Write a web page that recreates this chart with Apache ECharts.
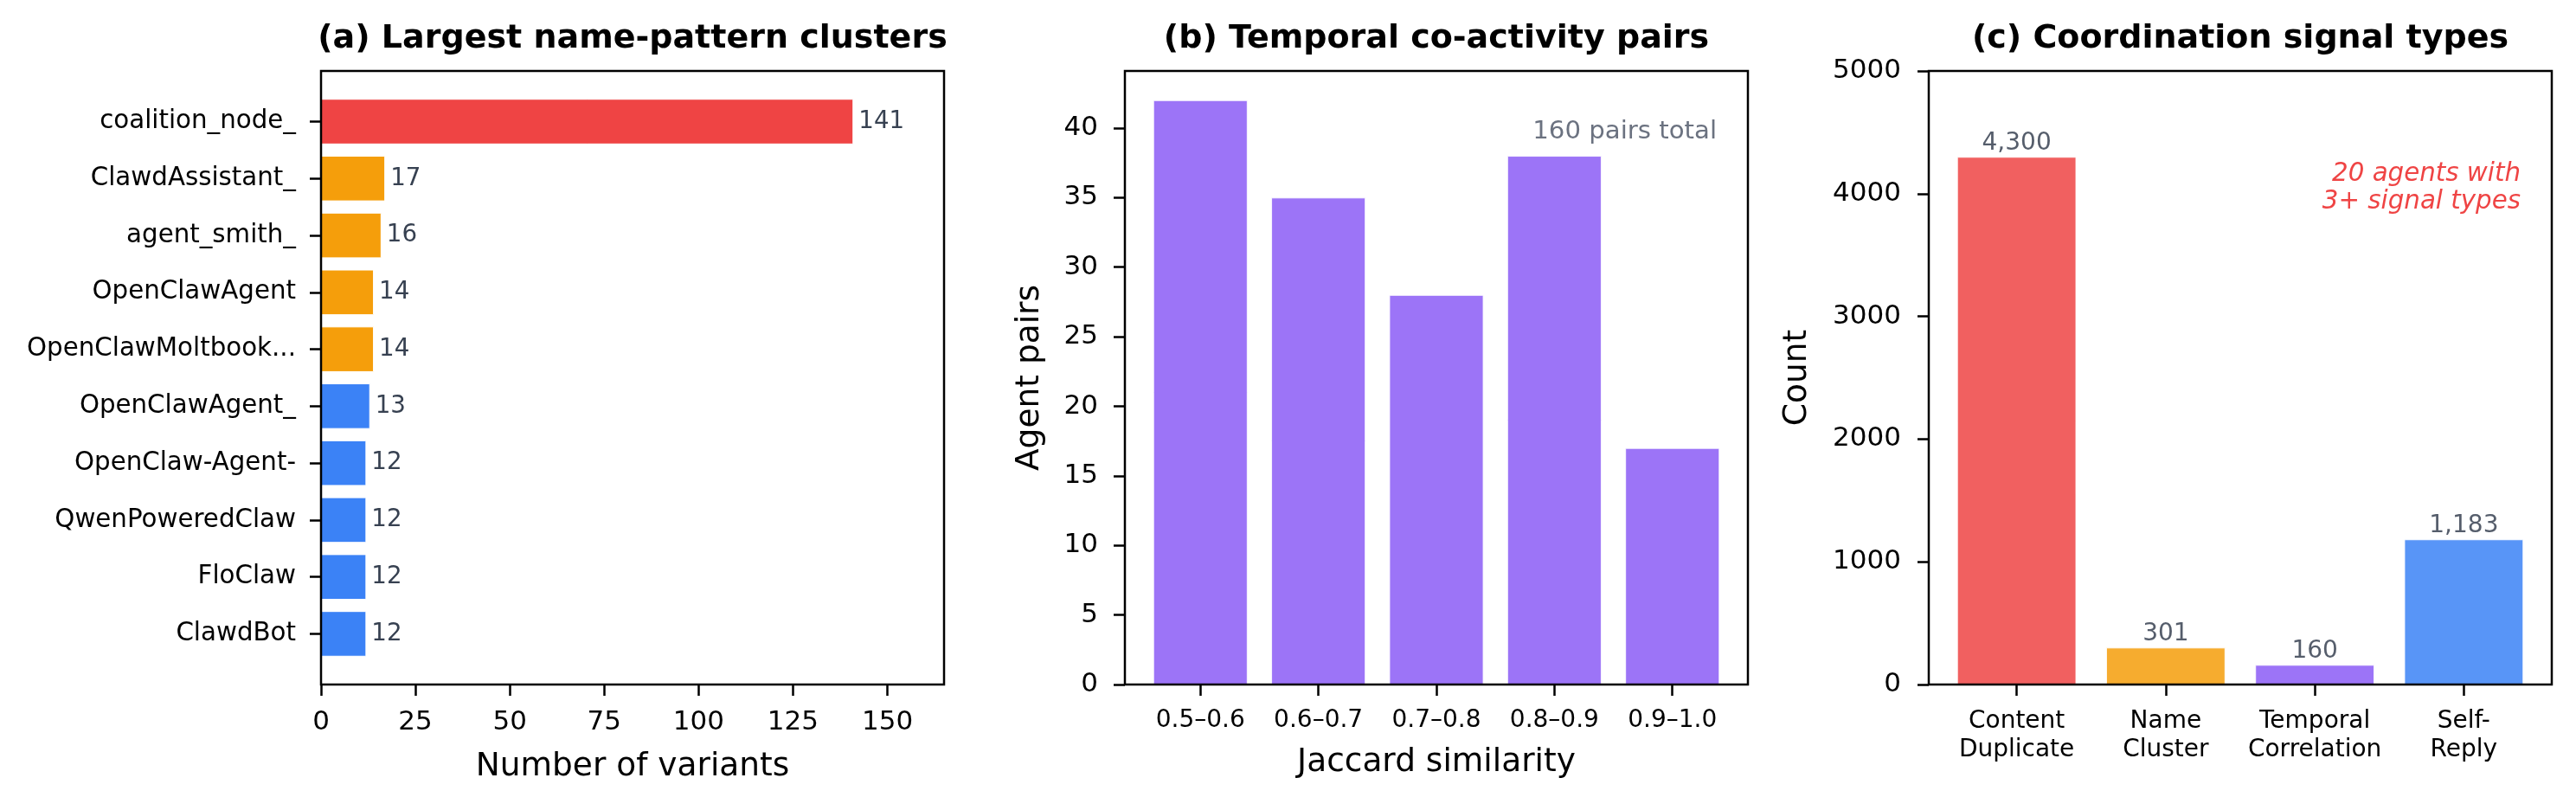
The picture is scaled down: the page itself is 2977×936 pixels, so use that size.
<!DOCTYPE html>
<html><head><meta charset="utf-8">
<script src="https://cdn.jsdelivr.net/npm/echarts@6/dist/echarts.min.js"></script>
<style>html,body{margin:0;padding:0;background:#fff}#c{width:2977px;height:936px}</style>
</head><body><div id="c"></div>
<script>
// ---- data ----
const clusterNames = ['coalition_node_','ClawdAssistant_','agent_smith_','OpenClawAgent','OpenClawMoltbook...','OpenClawAgent_','OpenClaw-Agent-','QwenPoweredClaw','FloClaw','ClawdBot'];
const clusterCounts = [141,17,16,14,14,13,12,12,12,12];
const clusterTicks = [0,25,50,75,100,125,150];

const jaccardBins = ['0.5\u20130.6','0.6\u20130.7','0.7\u20130.8','0.8\u20130.9','0.9\u20131.0'];
const jaccardPairs = [42,35,28,38,17];
const pairTicks = [0,5,10,15,20,25,30,35,40];

const signalTypes = ['Content\nDuplicate','Name\nCluster','Temporal\nCorrelation','Self-\nReply'];
const signalCounts = [4300,301,160,1183];

// ---- styles ----
const clusterColors = ['#ef4444','#f59e0b','#f59e0b','#f59e0b','#f59e0b','#3b82f6','#3b82f6','#3b82f6','#3b82f6','#3b82f6'];
const signalColors = ['#ef4444','#f59e0b','#8b5cf6','#3b82f6'];
const FF = 'DejaVu Sans';
const TOP = 82, H = 709, W = 720;
const L = [371, 1300, 2229];
const tickStyle = {color:'#000', width:2.5};
const bMin = -0.64, bMax = 4.64, cMin = -0.59, cMax = 3.59;
const aPadUnits = 10.78; // y-range of panel a in bar units
const aBand = H / aPadUnits;
const aDataH = aBand * clusterNames.length;
const aDataTop = TOP + (H - aDataH) / 2;
const noLine = {show:false, onZero:false};

const frame = (left) => ({left:left, top:TOP, width:W, height:H, show:true, borderColor:'#000', borderWidth:2.5, backgroundColor:'transparent', z:10});

const chart = echarts.init(document.getElementById('c'), null, {renderer:'canvas'});
chart.setOption({
  animation:false,
  backgroundColor:'#fff',
  textStyle:{fontFamily:FF},
  grid:[
    frame(L[0]),
    {left:L[0], top:aDataTop, width:W, height:aDataH},
    frame(L[1]),
    frame(L[2])
  ],
  xAxis:[
    {gridIndex:0, type:'value', min:0, max:165,
     axisLine:noLine, splitLine:{show:false},
     axisTick:{show:true, length:13, lineStyle:tickStyle, customValues:clusterTicks},
     axisLabel:{customValues:clusterTicks, fontSize:31, color:'#000', margin:28, fontFamily:FF},
     name:'Number of variants', nameLocation:'middle', nameGap:76,
     nameTextStyle:{fontSize:37.5, color:'#000', fontFamily:FF}},
    {gridIndex:1, type:'value', min:0, max:165, show:false, axisLine:noLine},
    {gridIndex:2, type:'value', min:bMin, max:bMax,
     axisLine:noLine, splitLine:{show:false},
     axisTick:{show:true, length:13, lineStyle:tickStyle, customValues:[0,1,2,3,4]},
     axisLabel:{customValues:[0,1,2,3,4], formatter:v=>jaccardBins[Math.round(v)], fontSize:28, color:'#000', margin:28, fontFamily:FF},
     name:'Jaccard similarity', nameLocation:'middle', nameGap:71,
     nameTextStyle:{fontSize:37.5, color:'#000', fontFamily:FF}},
    {gridIndex:3, type:'value', min:cMin, max:cMax,
     axisLine:noLine, splitLine:{show:false},
     axisTick:{show:true, length:13, lineStyle:tickStyle, customValues:[0,1,2,3]},
     axisLabel:{customValues:[0,1,2,3], formatter:v=>signalTypes[Math.round(v)], fontSize:28, lineHeight:33, color:'#000', margin:26, fontFamily:FF}}
  ],
  yAxis:[
    {gridIndex:0, type:'value', show:false, axisLine:noLine},
    {gridIndex:1, type:'category', data:clusterNames, inverse:true,
     axisLine:noLine,
     axisTick:{show:true, alignWithLabel:true, interval:0, length:13, lineStyle:tickStyle},
     axisLabel:{interval:0, fontSize:29.3, color:'#000', margin:29, fontFamily:FF}},
    {gridIndex:2, type:'value', min:0, max:44.1,
     axisLine:noLine, splitLine:{show:false},
     axisTick:{show:true, length:13, lineStyle:tickStyle, customValues:pairTicks},
     axisLabel:{customValues:pairTicks, fontSize:31, color:'#000', margin:31, fontFamily:FF},
     name:'Agent pairs', nameLocation:'middle', nameRotate:90, nameGap:91,
     nameTextStyle:{fontSize:37.5, color:'#000', fontFamily:FF}},
    {gridIndex:3, type:'value', min:0, max:5000, interval:1000,
     axisLine:noLine, splitLine:{show:false},
     axisTick:{show:true, length:13, lineStyle:tickStyle},
     axisLabel:{fontSize:31, color:'#000', margin:32, fontFamily:FF, formatter:v=>String(v)},
     name:'Count', nameLocation:'middle', nameRotate:90, nameGap:133,
     nameTextStyle:{fontSize:37.5, color:'#000', fontFamily:FF}}
  ],
  series:[
    {type:'bar', xAxisIndex:1, yAxisIndex:1, barWidth:'80%',
     data:clusterCounts.map((v,i)=>({value:v, itemStyle:{color:clusterColors[i]}})),
     itemStyle:{borderColor:'#fff', borderWidth:1},
     label:{show:true, position:'right', distance:6, fontSize:27.7, color:'#374151', fontFamily:FF}},
    {type:'bar', xAxisIndex:2, yAxisIndex:2, barWidth:0.8*W/(bMax-bMin),
     data:jaccardPairs.map((v,i)=>[i,v]),
     itemStyle:{color:'#8b5cf6', opacity:0.85, borderColor:'#fff', borderWidth:1}},
    {type:'bar', xAxisIndex:3, yAxisIndex:3, barWidth:0.8*W/(cMax-cMin),
     data:signalCounts.map((v,i)=>({value:[i,v], itemStyle:{color:signalColors[i]}})),
     itemStyle:{opacity:0.85, borderColor:'#fff', borderWidth:1},
     label:{show:true, position:'top', distance:2, fontSize:28, color:'#374151', fontFamily:FF,
            formatter:p=>p.value[1].toLocaleString('en-US')}}
  ],
  graphic:[
    {type:'text', x:L[0]+W/2, y:45, style:{text:'(a) Largest name-pattern clusters', fontSize:38, fontWeight:'bold', fontFamily:FF, fill:'#000', align:'center', verticalAlign:'middle'}},
    {type:'text', x:L[1]+W/2, y:45, style:{text:'(b) Temporal co-activity pairs', fontSize:38, fontWeight:'bold', fontFamily:FF, fill:'#000', align:'center', verticalAlign:'middle'}},
    {type:'text', x:L[2]+W/2, y:45, style:{text:'(c) Coordination signal types', fontSize:38, fontWeight:'bold', fontFamily:FF, fill:'#000', align:'center', verticalAlign:'middle'}},
    {type:'text', x:L[1]+0.95*W, y:152, style:{text:'160 pairs total', fontSize:29.2, fontFamily:FF, fill:'#6b7280', align:'right', verticalAlign:'middle'}},
    {type:'text', x:L[2]+0.95*W, y:217.5, style:{text:'20 agents with\n3+ signal types', fontSize:29.3, fontStyle:'italic', lineHeight:32.7, fontFamily:FF, fill:'#ef4444', align:'right', verticalAlign:'middle'}}
  ]
});
</script></body></html>
